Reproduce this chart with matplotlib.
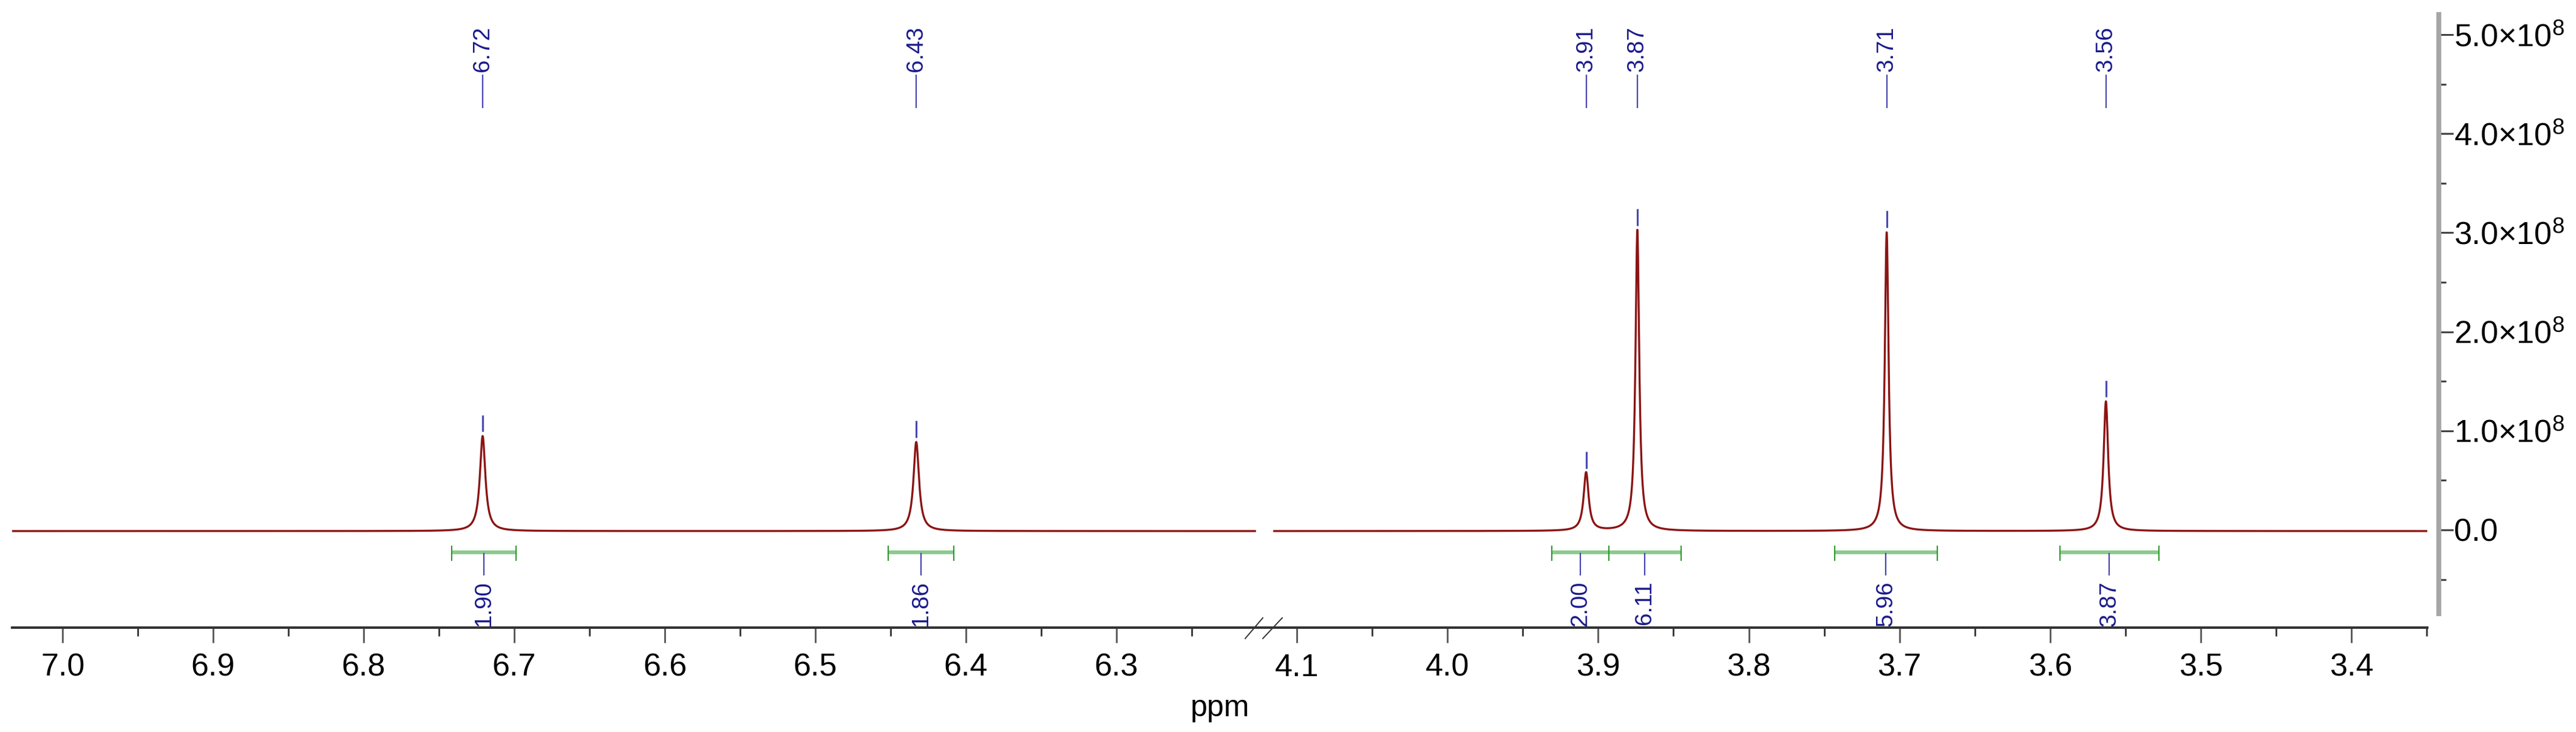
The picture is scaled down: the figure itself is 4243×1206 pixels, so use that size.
import matplotlib
matplotlib.use('Agg')

import matplotlib.pyplot as plt
import matplotlib.transforms as mtransforms
import numpy as np
from matplotlib.lines import Line2D
from matplotlib.ticker import MultipleLocator, FuncFormatter

plt.rcParams['font.family'] = ['Liberation Sans', 'DejaVu Sans']
plt.rcParams['mathtext.fontset'] = 'custom'
plt.rcParams['mathtext.rm'] = 'Liberation Sans'


# ===============================
# DATA
# ===============================
peak_ppm = [6.721, 6.433, 3.908, 3.874, 3.7085, 3.563]
peak_height = [0.96e8, 0.90e8, 0.59e8, 3.04e8, 3.02e8, 1.31e8]
peak_hwhm = [0.0022, 0.0022, 0.0020, 0.0015, 0.0015, 0.0018]
peak_labels = ['6.72', '6.43', '3.91', '3.87', '3.71', '3.56']

integral_from = [6.7415, 6.4516, 3.9306, 3.8930, 3.7430, 3.5936]
integral_to = [6.6990, 6.4080, 3.8930, 3.8450, 3.6750, 3.5278]
integral_values = ['1.90', '1.86', '2.00', '6.11', '5.96', '3.87']

baseline = -0.012e8
left_range = (7.0335, 6.208)     # spectrum before the axis break
right_range = (4.115, 3.3497)    # spectrum after the axis break
left_xlim = (7.0335, 6.2020)
right_xlim = (4.1218, 3.3497)
y_ticks = [0, 1e8, 2e8, 3e8, 4e8, 5e8]


# ===============================
# LAYOUT (pixels)
# ===============================
W, H = 4243, 1206
plot_left, brk, plot_right = 20, 2082, 3998
top_y, xaxis_y = 20, 1034
yaxis_x, yaxis_bottom = 4017, 1015
zero_y = 873
px_per_1e8 = 163.2

TICK_FS = 37.5
SMALL_FS = 27.7
RED = '#8b1414'
NAVY = '#1a1a8c'
MARK = '#4848b0'
GREEN = '#4caf50'


def px_rect(x0, y0, x1, y1):
    return [x0 / W, 1 - y1 / H, (x1 - x0) / W, (y1 - y0) / H]


def px_to_y(py):
    return (zero_y - py) / px_per_1e8 * 1e8


def spectrum(x):
    y = np.full_like(x, baseline)
    for p, h, g in zip(peak_ppm, peak_height, peak_hwhm):
        y += h * g ** 2 / ((x - p) ** 2 + g ** 2)
    return y


fig = plt.figure(figsize=(W / 100, H / 100), dpi=100)

axL = fig.add_axes(px_rect(plot_left, top_y, brk, xaxis_y))
axR = fig.add_axes(px_rect(brk, top_y, plot_right, xaxis_y))

for ax, xl, rng in ((axL, left_xlim, left_range), (axR, right_xlim, right_range)):
    x = np.linspace(rng[0], rng[1], 6000)
    ax.plot(x, spectrum(x), color=RED, lw=2.4, solid_joinstyle='round')
    ax.set_xlim(xl)
    ax.set_ylim(px_to_y(xaxis_y), px_to_y(top_y))
    ax.patch.set_visible(False)
    for s in ('top', 'left', 'right'):
        ax.spines[s].set_visible(False)
    ax.spines['bottom'].set_linewidth(2.9)
    ax.spines['bottom'].set_color('#333333')
    ax.set_yticks([])
    ax.xaxis.set_major_locator(MultipleLocator(0.1))
    ax.xaxis.set_minor_locator(MultipleLocator(0.05))
    ax.xaxis.set_major_formatter(FuncFormatter(lambda v, pos: f'{v:.1f}'))
    ax.tick_params(axis='x', which='major', length=18.0, width=2.0,
                   color='#555555', pad=12, labelsize=TICK_FS)
    ax.tick_params(axis='x', which='minor', length=10.0, width=2.0,
                   color='#333333')


def axis_for(ppm):
    return axL if ppm > 5 else axR


def frac(py):
    return (xaxis_y - py) / (xaxis_y - top_y)


# peak picks
for p, h, lab in zip(peak_ppm, peak_height, peak_labels):
    ax = axis_for(p)
    ax.plot([p, p], [h + 0.03e8, h + 0.2e8], color=MARK, lw=2.2,
            solid_capstyle='butt')
    trans = mtransforms.blended_transform_factory(ax.transData, ax.transAxes)
    ax.plot([p, p], [frac(178), frac(123)], transform=trans, color=MARK,
            lw=1.6, solid_capstyle='butt')
    ax.text(p, frac(118), lab, transform=trans, rotation=90, ha='center',
            va='bottom', fontsize=SMALL_FS, color=NAVY)

# integrals
bar_y = px_to_y(910)
for a, b, val in zip(integral_from, integral_to, integral_values):
    ax = axis_for(a)
    ax.plot([a, b], [bar_y, bar_y], color=GREEN, lw=4.5, alpha=0.65,
            solid_capstyle='butt')
    for e in (a, b):
        ax.plot([e, e], [px_to_y(900), px_to_y(923)], color='#2e9a2e',
                lw=1.5)
    c = (a + b) / 2
    ax.plot([c, c], [px_to_y(912), px_to_y(947)], color=MARK, lw=1.6)
    ax.text(c, px_to_y(957), val, rotation=90, ha='center', va='top',
            fontsize=SMALL_FS, color=NAVY)

# axis break marks
for x0, x1 in ((2051, 2080), (2080, 2112)):
    fig.add_artist(Line2D([x0 / W, x1 / W], [1 - 1052 / H, 1 - 1018 / H],
                          transform=fig.transFigure, color='#333333', lw=1.4))

# intensity axis on the right
axY = fig.add_axes(px_rect(yaxis_x - 1, top_y, yaxis_x, yaxis_bottom))
axY.set_ylim(px_to_y(yaxis_bottom), px_to_y(top_y))
axY.patch.set_visible(False)
for s in ('top', 'left', 'bottom'):
    axY.spines[s].set_visible(False)
axY.spines['right'].set_linewidth(5.8)
axY.spines['right'].set_color('#a6a6a6')
axY.spines['right'].set_capstyle('butt')
axY.set_xticks([])
axY.yaxis.tick_right()
axY.set_yticks(y_ticks)
axY.yaxis.set_minor_locator(MultipleLocator(0.5e8))


def y_fmt(v, pos):
    if abs(v) < 1:
        return '0.0'
    return r'$\mathregular{%.1f{\times}10^{8}}$' % (v / 1e8)


axY.yaxis.set_major_formatter(FuncFormatter(y_fmt))
axY.tick_params(axis='y', which='major', length=17.3, width=2.2,
                color='#444444', pad=1, labelsize=TICK_FS)
axY.tick_params(axis='y', which='minor', length=8.6, width=2.2,
                color='#444444')

fig.text(2009 / W, 1 - 1167 / H, 'ppm', ha='center', va='center',
         fontsize=36)

fig.savefig('out.png', dpi=100)
print("[OK] Saved out.png")
